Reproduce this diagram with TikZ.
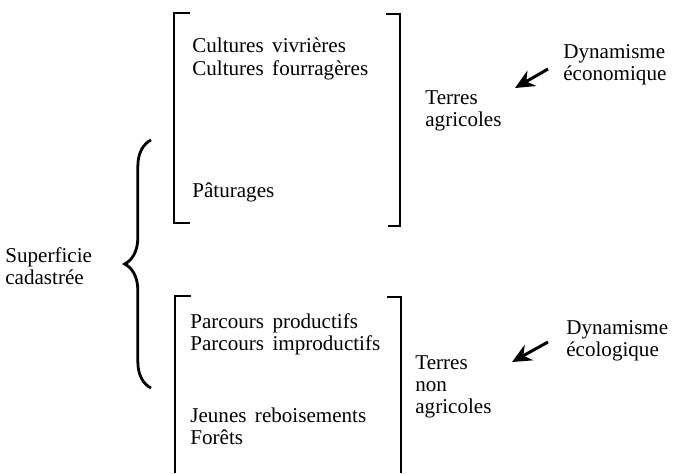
\documentclass[tikz,border=0pt]{standalone}
\usepackage{fontspec}
\setmainfont{Liberation Serif}[WordSpace=1.6]
\usetikzlibrary{arrows.meta,positioning,calc,decorations.pathreplacing}

\begin{document}
\begin{tikzpicture}[
    x=0.02cm, y=-0.02cm,
    txt/.style={inner sep=0pt, align=left, anchor=west, font=\fontsize{12}{12.6}\selectfont},
    bracket/.style={line width=0.9pt},
    arrow/.style={-{Stealth[length=11pt,width=10pt]}, line width=1.7pt},
    bigbrace/.style={decorate, decoration={brace, amplitude=15pt, aspect=0.5}, line width=1.6pt}
]
\useasboundingbox (0,0) rectangle (682,473);

% Terres agricoles (upper bracket)
\draw[bracket] (190,13) -- (174,13) -- (174,223) -- (190,223);
\draw[bracket] (386,14) -- (400,14) -- (400,226) -- (388,226);
\node[txt] (cv) at (192,59) {Cultures vivrières\\Cultures fourragères};
\node[txt] (pat) at (192,192) {Pâturages};
\node[txt] (tagr) at (425,111) {Terres\\agricoles};

% Terres non agricoles (lower bracket)
\draw[bracket] (191,296) -- (175,296) -- (175,473);
\draw[bracket] (387,297) -- (401,297) -- (401,473);
\node[txt] (pp) at (190,334) {Parcours productifs\\Parcours improductifs};
\node[txt] (jr) at (190,426) {Jeunes reboisements\\Forêts};
\node[txt] (tnagr) at (415,387) {Terres\\non\\agricoles};

% Superficie cadastree and brace
\node[txt] (sc) at (5,266) {Superficie\\cadastrée};
\coordinate (brbot) at (151,388);
\coordinate (brtop) at (151,140);
\draw[bigbrace] (brbot) -- (brtop);

% Dynamisme
\node[txt] (dyneco) at (563,65) {Dynamisme\\économique};
\node[txt] (dyneco2) at (566,341) {Dynamisme\\écologique};
\coordinate (ecotip) at (515,88);
\coordinate (ecotip2) at (512,362);
\draw[arrow] ($(dyneco.west)+(-15,4)$) -- (ecotip);
\draw[arrow] ($(dyneco2.west)+(-18,1)$) -- (ecotip2);

\end{tikzpicture}
\end{document}
